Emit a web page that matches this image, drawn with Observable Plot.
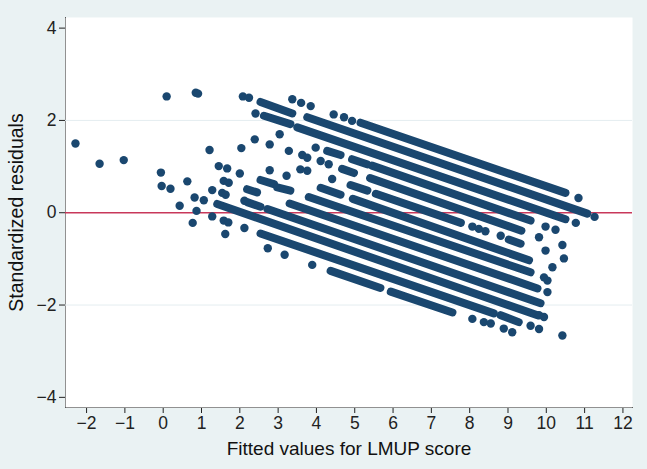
<!DOCTYPE html>
<html><head><meta charset="utf-8">
<script src="https://cdn.jsdelivr.net/npm/d3@7"></script>
<script src="https://cdn.jsdelivr.net/npm/@observablehq/plot@0.6"></script>
<style>
html,body{margin:0;padding:0;background:#eaf2f3;}
#chart{width:647px;height:469px;}
#chart g[aria-label$="tick label"], #chart g[aria-label$="tick label"] text { font-size: 17.5px !important; }
</style></head><body><div id="chart"></div>
<script>
// Axis ticks and titles
const xTicks = [-2,-1,0,1,2,3,4,5,6,7,8,9,10,11,12];
const yTicks = [-4,-2,0,2,4];
const gridValues = [-2, 2];
const zeroLine = [0];
const xTitle = "Fitted values for LMUP score";
const yTitle = "Standardized residuals";

// Dense runs of overlapping points: start / end of each run
const segFitStart = [5.15, 2.54, 3.76, 2.63, 3.50, 4.28, 4.93, 5.45, 4.67, 5.40, 4.89, 5.55, 9.02, 4.11, 4.95, 2.54, 2.98, 3.80, 2.19, 3.30, 2.19, 2.72, 1.41, 2.54, 8.81, 4.37, 5.94];
const segResStart = [1.95, 2.40, 2.07, 2.10, 1.85, 1.34, 1.16, 1.02, 0.95, 0.75, 0.60, 0.41, -0.58, 0.54, 0.30, 0.71, 0.55, 0.34, 0.51, 0.20, 0.23, 0.08, 0.19, -0.45, -2.22, -1.26, -1.71];
const segFitEnd   = [10.50, 3.37, 11.07, 3.32, 10.50, 4.63, 5.32, 9.59, 4.98, 9.35, 5.33, 7.77, 9.33, 4.63, 9.55, 2.89, 3.32, 9.59, 2.45, 9.77, 2.54, 9.85, 9.77, 8.63, 9.28, 5.67, 7.55];
const segResEnd   = [0.43, 2.15, -0.02, 1.92, -0.14, 1.25, 1.05, -0.17, 0.86, -0.39, 0.48, -0.22, -0.67, 0.39, -1.03, 0.62, 0.48, -1.29, 0.44, -1.64, 0.13, -1.96, -2.22, -2.18, -2.37, -1.63, -2.16];

// Isolated points (fitted value, standardized residual)
const dotFit = [3.37, 3.60, 3.85, 4.45, 4.72, 4.93, 10.84,
  2.08, 2.24, 11.26,
  0.85, 0.91, 2.41, 10.77,
  0.09, 3.04, 3.98, 9.98, 10.24,
  2.39, 2.78, 3.28, 3.63, 3.76, 4.11, 4.32, 9.81, 10.42,
  2.04, 3.58, 3.76, 4.41, 8.07, 8.24, 8.41, 8.81, 9.98, 10.46,
  1.21, 2.78, 3.22, 10.16,
  1.45, 1.67, 2.00, 9.94, 10.03,
  1.58, 1.71, 10.03,
  -2.29, -1.03, -0.06, 0.63, 1.28, 1.54, 1.63, 2.12,
  -1.66, -0.04, 0.19, 0.82, 1.06, 9.81, 9.94,
  0.43, 0.87, 1.28, 1.58, 1.70, 2.12, 9.59, 9.81, 10.42,
  0.77, 1.62, 2.73, 3.17, 3.89, 8.07, 8.37, 8.55, 8.89, 9.11];
const dotRes = [2.46, 2.38, 2.31, 2.13, 2.07, 1.99, 0.32,
  2.52, 2.49, -0.09,
  2.60, 2.58, 2.15, -0.22,
  2.52, 1.70, 1.41, -0.30, -0.37,
  1.59, 1.48, 1.34, 1.25, 1.19, 1.12, 1.05, -0.53, -0.70,
  1.40, 0.94, 0.91, 0.73, -0.30, -0.35, -0.40, -0.50, -0.82, -0.99,
  1.36, 0.92, 0.80, -1.18,
  1.01, 0.96, 0.85, -1.40, -1.47,
  0.69, 0.65, -1.72,
  1.50, 1.14, 0.87, 0.68, 0.49, 0.43, 0.39, 0.26,
  1.06, 0.58, 0.52, 0.33, 0.27, -2.22, -2.26,
  0.15, 0.04, -0.08, -0.17, -0.21, -0.33, -2.45, -2.52, -2.66,
  -0.22, -0.46, -0.77, -0.91, -1.13, -2.30, -2.37, -2.40, -2.51, -2.59];

const segments = segFitStart.map((d, i) => ({x1: d, y1: segResStart[i], x2: segFitEnd[i], y2: segResEnd[i]}));
const dots = dotFit.map((d, i) => ({x: d, y: dotRes[i]}));
const fmt = d => d < 0 ? "\u2212" + Math.abs(d) : String(d);
const navy = "#1a476f";

const chart = Plot.plot({
  width: 647, height: 469,
  marginLeft: 65, marginRight: 15, marginTop: 17, marginBottom: 62,
  style: {background: "#eaf2f3", fontFamily: "'Liberation Sans', Arial, sans-serif", fontSize: "17.5px", color: "#222"},
  x: {domain: [-2.55, 12.25], ticks: xTicks, tickFormat: fmt, tickSize: 6, tickPadding: 3, label: null, line: true},
  y: {domain: [-4.22, 4.23], ticks: yTicks, tickFormat: fmt, tickSize: 6, tickPadding: 3, label: null, line: true},
  marks: [
    Plot.frame({fill: "white", stroke: "none"}),
    Plot.ruleY(gridValues, {stroke: "#e4edf0", strokeWidth: 1}),
    Plot.ruleY(zeroLine, {stroke: "#c8385a", strokeWidth: 1.5}),
    Plot.link(segments, {x1: "x1", y1: "y1", x2: "x2", y2: "y2", stroke: navy, strokeWidth: 8, strokeLinecap: "round"}),
    Plot.dot(dots, {x: "x", y: "y", r: 4.2, fill: navy}),
    Plot.text([xTitle], {text: d => d, frameAnchor: "bottom", dy: 47, fontSize: 19, fill: "#111"}),
    Plot.text([yTitle], {text: d => d, frameAnchor: "left", textAnchor: "middle", rotate: -90, dx: -49, fontSize: 19.5, fill: "#111"})
  ]
});
document.getElementById("chart").appendChild(chart);
</script></body></html>
